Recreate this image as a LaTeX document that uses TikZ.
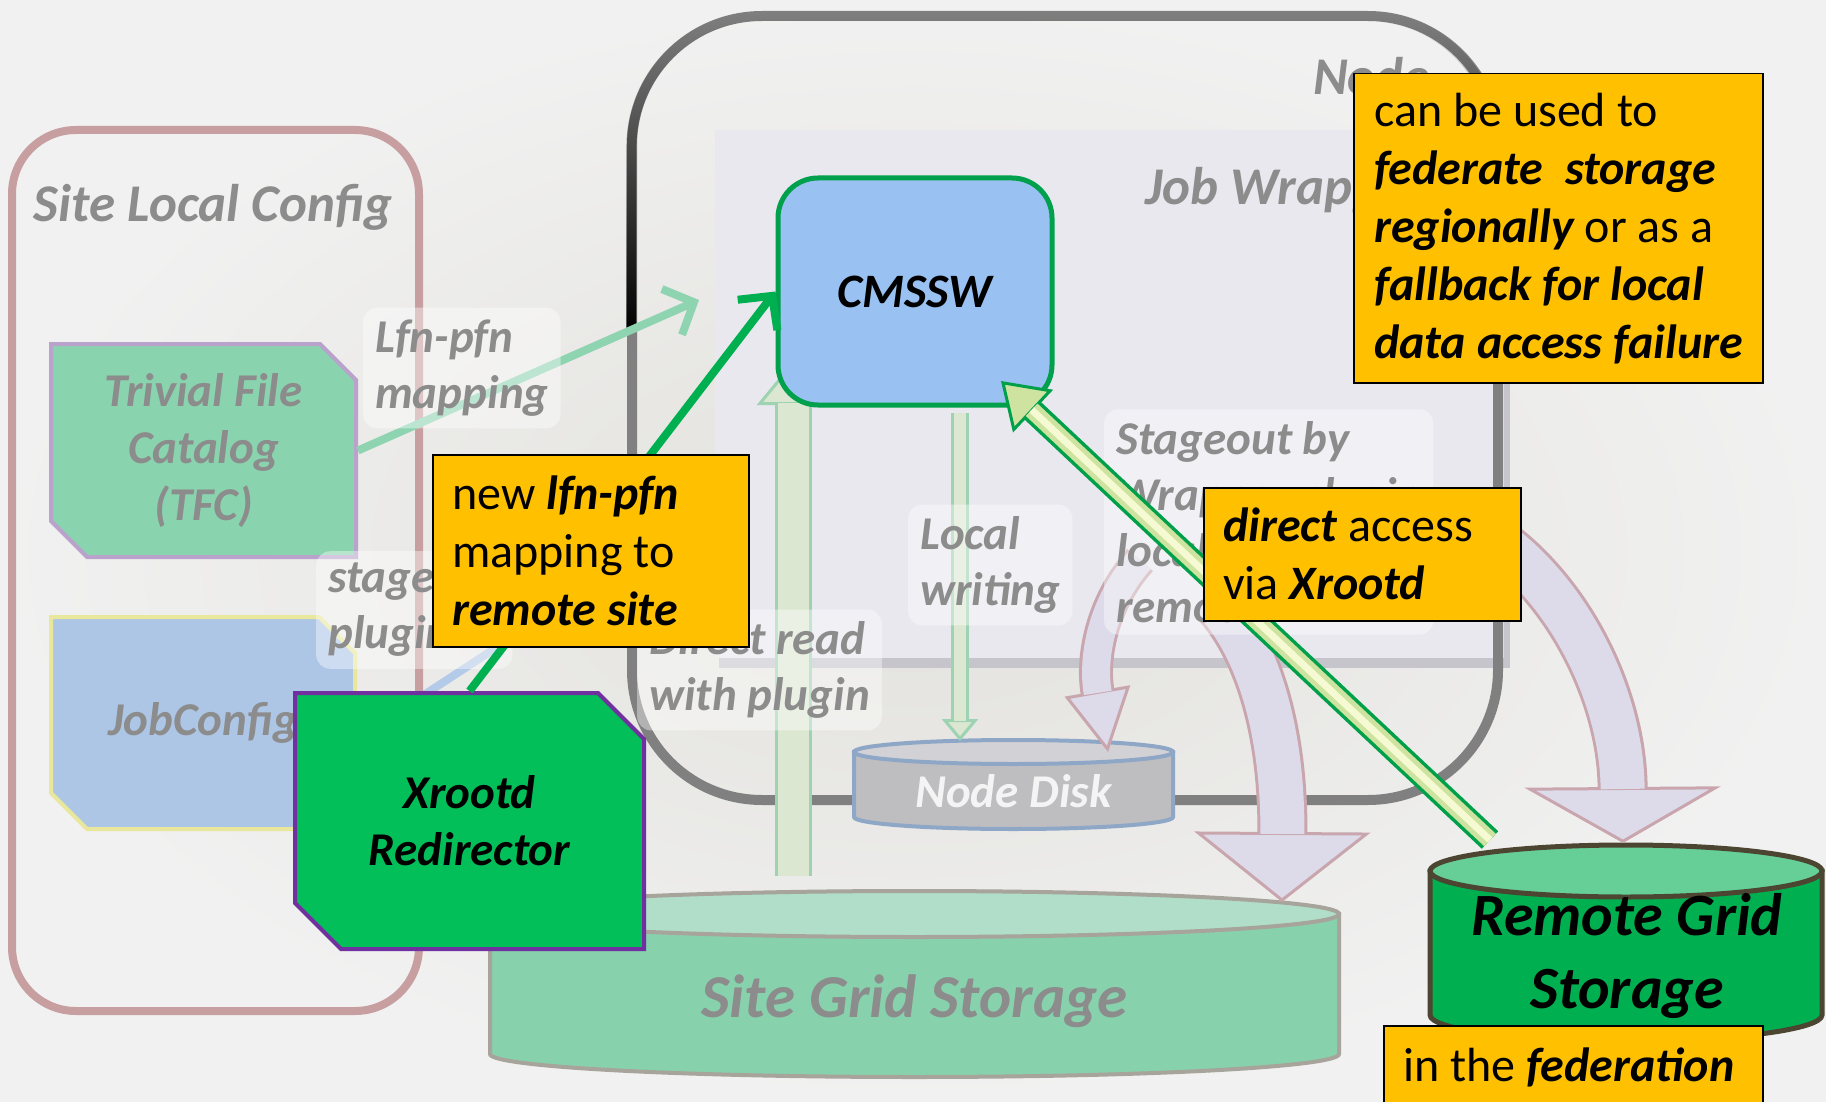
\documentclass[tikz,border=0pt]{standalone}
\usepackage{fontspec}
\setmainfont{Carlito}
\usepackage{tikz}
\usetikzlibrary{arrows.meta, fadings, shapes.misc}
\usepackage{xcolor}
\definecolor{PageGray}{HTML}{E2E1DC}
\definecolor{PageLight}{HTML}{F1F1F1}
\definecolor{LabelGray}{HTML}{8C8C8C}
\definecolor{ConfigRose}{HTML}{C89FA1}
\definecolor{FrameGray}{HTML}{808080}
\definecolor{WrapperLilac}{HTML}{E9E8EF}
\definecolor{WrapperEdge}{HTML}{C6C5CC}
\definecolor{TfcMint}{HTML}{89D3AE}
\definecolor{TfcEdge}{HTML}{B9A2CC}
\definecolor{JobBlue}{HTML}{ADC6E6}
\definecolor{JobEdge}{HTML}{E8E79C}
\definecolor{CmsBlue}{HTML}{99C1F1}
\definecolor{CmsEdge}{HTML}{00A04C}
\definecolor{XrdGreen}{HTML}{00B050}
\definecolor{LfnMint}{HTML}{8ED4B1}
\definecolor{LinkBlue}{HTML}{B3CAE8}
\definecolor{RedirGreen}{HTML}{02BF5A}
\definecolor{RedirPurple}{HTML}{7030A0}
\definecolor{NoteYellow}{HTML}{FFC000}
\definecolor{SiteBody}{HTML}{88D1AD}
\definecolor{SiteTop}{HTML}{B0DEC8}
\definecolor{SiteEdge}{HTML}{A7A49C}
\definecolor{RemoteBody}{HTML}{00B050}
\definecolor{RemoteTop}{HTML}{66CF98}
\definecolor{RemoteEdge}{HTML}{4C4531}
\definecolor{DiskBody}{HTML}{BEBEC1}
\definecolor{DiskTop}{HTML}{D2D2D6}
\definecolor{DiskEdge}{HTML}{8FA7C6}
\definecolor{DiskWhite}{HTML}{F4F4F4}
\definecolor{ReadFill}{HTML}{DCE7D1}
\definecolor{ReadRim}{HTML}{9DD3B2}
\definecolor{StageFill}{HTML}{DDDBEA}
\definecolor{StageRim}{HTML}{C9A6AE}
\definecolor{AccessPale}{HTML}{F5FAD2}
\definecolor{AccessMid}{HTML}{CFE3A0}
\definecolor{AccessRim}{HTML}{00A04A}
\newcommand{\keyword}[1]{{\bfseries\itshape #1}}
\tikzset{%
  title_text/.style={%
    font={\fontsize{53}{65}\selectfont\bfseries\itshape},%
    text=LabelGray,%
    inner sep=0pt,%
  },
  path_label/.style={%
    font={\fontsize{47}{56}\selectfont\bfseries\itshape},%
    text=LabelGray,%
    align=left,%
    fill=white,%
    fill opacity=0.4,%
    text opacity=1,%
    rounded corners=14pt,%
    inner sep=12pt,%
  },
  config_frame/.style={%
    draw=ConfigRose,%
    line width=8pt,%
    rounded corners=64pt,%
  },
  node_frame/.style={%
    draw=FrameGray,%
    line width=10pt,%
    rounded corners=130pt,%
  },
  config_block/.style={%
    chamfered rectangle,%
    chamfered rectangle corners={north east, south west},%
    chamfered rectangle sep=18pt,%
    line width=4pt,%
    font={\fontsize{47}{57}\selectfont\bfseries\itshape},%
    text=LabelGray,%
    align=center,%
  },
  cmssw_block/.style={%
    rectangle,%
    rounded corners=40pt,%
    draw=CmsEdge,%
    line width=5pt,%
    fill=CmsBlue,%
    minimum width=274pt,%
    minimum height=227pt,%
    font={\fontsize{48}{58}\selectfont\bfseries\itshape},%
  },
  redirector_block/.style={%
    config_block,%
    chamfered rectangle sep=23pt,%
    draw=RedirPurple,%
    fill=RedirGreen,%
    text=black,%
    minimum width=349pt,%
    minimum height=256pt,%
  },
  note_box/.style={%
    draw=black,%
    line width=1.5pt,%
    fill=NoteYellow,%
    inner sep=0pt,%
    anchor=north west,%
  },
  note_text/.style={%
    font={\fontsize{48}{58}\selectfont},%
    align=left,%
    inner sep=0pt,%
    anchor=west,%
  },
  site_drum/.style={fill=SiteBody, draw=SiteEdge, line width=4pt},
  disk_drum/.style={fill=DiskBody, draw=DiskEdge, line width=4pt},
  remote_drum/.style={fill=RemoteBody, draw=RemoteEdge, line width=5pt},
  drum_text/.style={%
    font={\fontsize{61}{74}\selectfont\bfseries\itshape},%
    text=LabelGray,%
    inner sep=0pt,%
  },
  remote_text/.style={%
    font={\fontsize{60}{73}\selectfont\bfseries\itshape},%
    align=center,%
    inner sep=0pt,%
  },
  disk_text/.style={%
    font={\fontsize{47}{57}\selectfont\bfseries\itshape},%
    text=DiskWhite,%
    inner sep=0pt,%
  },
  read_rim/.style={draw=ReadRim, line width=37pt},
  read_core/.style={draw=ReadFill, line width=31pt},
  read_head/.style={-{Triangle[length=44pt, width=72pt, line width=3pt, fill=ReadFill]}},
  write_head/.style={-{Triangle[length=22pt, width=36pt, line width=3pt, fill=ReadFill]}},
  stage_rim/.style={draw=StageRim},
  stage_core/.style={draw=StageFill},
  access_rim/.style={%
    draw=AccessRim,%
    line width=24pt,%
    -{Triangle[length=44pt, width=58pt, line width=3pt, fill=AccessMid]}%
  },
  access_mid/.style={draw=AccessMid, line width=17pt},
  access_core/.style={draw=AccessPale, line width=7pt},
  redirect_arrow/.style={%
    draw=XrdGreen,%
    line width=8pt,%
    -{Straight Barb[length=24pt, width=50pt]}%
  },
  lfn_arrow/.style={%
    draw=LfnMint,%
    line width=8pt,%
    -{Straight Barb[length=24pt, width=50pt]}%
  },
  job_link/.style={draw=LinkBlue, line width=8pt},
}
\begin{document}
\begin{tikzpicture}[x=1pt, y=-1pt]
  \useasboundingbox (0,0) rectangle (1826,1102);
  \shade[inner color=PageGray, outer color=PageLight] (0,0) rectangle (1826,1102);

  % site local config and worker node
  \draw[config_frame] (12,130) rectangle (419,1011);
  \fill[WrapperEdge] (719,138) rectangle (1510,668);
  \fill[WrapperLilac] (715,130) rectangle (1504,658);
  \draw[node_frame] (632,16) rectangle (1498,800);
  \draw[node_frame, draw=black, path fading=north]
    (632,330) -- (632,16) -- (1498,16) -- (1498,330);

  % storages
  \filldraw[site_drum] (490,914) -- (490,1054)
    arc[start angle=180, end angle=0, x radius=424.5, y radius=23]
    -- (1339,914) -- cycle;
  \filldraw[site_drum, fill=SiteTop] (914.5,914)
    ellipse [x radius=424.5, y radius=23];
  \node[drum_text] (SiteGrid) at (914.5,1001) {Site Grid Storage};

  \filldraw[disk_drum] (854,752) -- (854,817)
    arc[start angle=180, end angle=0, x radius=159.5, y radius=12]
    -- (1173,752) -- cycle;
  \filldraw[disk_drum, fill=DiskTop] (1013.5,752)
    ellipse [x radius=159.5, y radius=12];
  \node[disk_text] (NodeDisk) at (1013.5,791) {Node Disk};

  \filldraw[remote_drum] (1430,871) -- (1430,1015)
    arc[start angle=180, end angle=0, x radius=196, y radius=26]
    -- (1822,871) -- cycle;
  \filldraw[remote_drum, fill=RemoteTop] (1626,871)
    ellipse [x radius=196, y radius=26];
  \node[remote_text] (Remote) at (1627,956) {Remote Grid\\Storage};

  % config blocks
  \coordinate (link_start) at (355,740);
  \coordinate (link_end) at (560,606);
  \draw[job_link] (link_start) -- (link_end);
  \node[config_block, draw=TfcEdge, fill=TfcMint,
    minimum width=305pt, minimum height=213pt]
    (TFC) at (203.5,450.5) {Trivial File\\Catalog\\(TFC)};
  \node[config_block, draw=JobEdge, fill=JobBlue,
    minimum width=304pt, minimum height=212pt]
    (JobConfig) at (203,723) {JobConfig};
  \coordinate (lfn_tip) at (699,300);
  \draw[lfn_arrow] (TFC.east) -- (lfn_tip);

  % reading and writing
  \coordinate (SiteGrid_top) at (793,876);
  \coordinate (read_tip) at (793,361);
  \draw[read_rim, read_head] (SiteGrid_top) -- (read_tip);
  \draw[read_core, shorten >=42pt] (SiteGrid_top) -- (read_tip);

  \coordinate (write_foot) at (960,413);
  \coordinate (NodeDisk_top) at (960,741);
  \draw[read_rim, line width=18pt, write_head] (write_foot) -- (NodeDisk_top);
  \draw[read_core, line width=12pt, shorten >=20pt] (write_foot) -- (NodeDisk_top);

  % stageout
  \coordinate (stage_local_from) at (1140,560);
  \coordinate (stage_local_to) at (1108,752);
  \coordinate (stage_site_from) at (1212,598);
  \coordinate (stage_site_to) at (1282,902);
  \coordinate (stage_remote_from) at (1495,540);
  \coordinate (stage_remote_to) at (1623,843);
  \draw[stage_rim, line width=34pt,
    -{Triangle[length=62pt, width=66pt, line width=3pt, fill=StageFill]}]
    (stage_local_from) .. controls (1100,605) and (1092,660) .. (stage_local_to);
  \draw[stage_core, line width=28pt, shorten >=60pt]
    (stage_local_from) .. controls (1100,605) and (1092,660) .. (stage_local_to);
  \draw[stage_rim, line width=50pt,
    -{Triangle[length=70pt, width=176pt, line width=3pt, fill=StageFill]}]
    (stage_site_from) .. controls (1262,650) and (1283,740) .. (stage_site_to);
  \draw[stage_core, line width=44pt, shorten >=68pt]
    (stage_site_from) .. controls (1262,650) and (1283,740) .. (stage_site_to);
  \draw[stage_rim, line width=50pt,
    -{Triangle[length=56pt, width=196pt, line width=3pt, fill=StageFill]}]
    (stage_remote_from) .. controls (1572,595) and (1622,700) .. (stage_remote_to);
  \draw[stage_core, line width=44pt, shorten >=54pt]
    (stage_remote_from) .. controls (1572,595) and (1622,700) .. (stage_remote_to);

  % labels
  \node[path_label, anchor=west] (LfnLabel) at (363,368) {Lfn-pfn\\mapping};
  \node[path_label, anchor=west] (PluginLabel) at (316,610) {stageout\\plugin};
  \node[path_label, anchor=west] (ReadLabel) at (637,670) {Direct read\\with plugin};
  \node[path_label, anchor=west] (WriteLabel) at (908,565) {Local\\writing};
  \node[path_label, anchor=west] (StageLabel) at (1104,522)
    {Stageout by\\Wrapper plugin\\local or\\remote};

  \node[cmssw_block] (CMSSW) at (915,291.5) {CMSSW};

  \node[title_text] (SiteTitle) at (213,207) {Site Local Config};
  \node[title_text, anchor=west] (NodeTitle) at (1313,76) {Node};
  \node[title_text, anchor=west] (WrapperTitle) at (1145,190) {Job Wrapper};

  % direct access via xrootd
  \coordinate (Remote_top) at (1490,840);
  \coordinate (access_tip) at (1001,381);
  \draw[access_rim] (Remote_top) -- (access_tip);
  \draw[access_mid, shorten >=42pt] (Remote_top) -- (access_tip);
  \draw[access_core, shorten >=42pt] (Remote_top) -- (access_tip);

  \node[redirector_block] (Xrootd) at (469.5,821) {Xrootd\\Redirector};
  \draw[redirect_arrow] (Xrootd.north) -- (CMSSW.west);

  % notes
  \node[note_box, minimum width=409pt, minimum height=309pt]
    (FederateNote) at (1353,73) {};
  \node[note_text] (FederateText) at ([xshift=21pt]FederateNote.west)
    {can be used to\\\keyword{federate\ \ storage}\\\keyword{regionally} or as a\\
     \keyword{fallback for local}\\\keyword{data access failure}};
  \node[note_box, minimum width=316pt, minimum height=192pt]
    (MappingNote) at (432,454) {};
  \node[note_text] (MappingText) at ([xshift=20pt]MappingNote.west)
    {new \keyword{lfn-pfn}\\mapping to\\\keyword{remote site}};
  \node[note_box, minimum width=317pt, minimum height=133pt]
    (AccessNote) at (1203,487) {};
  \node[note_text] (AccessText) at ([xshift=20pt]AccessNote.west)
    {\keyword{direct} access\\via \keyword{Xrootd}};
  \node[note_box, minimum width=379pt, minimum height=84pt]
    (FederationNote) at (1383,1025) {};
  \node[note_text] (FederationText) at ([xshift=20pt]FederationNote.west)
    {in the \keyword{federation}};
\end{tikzpicture}
\end{document}
